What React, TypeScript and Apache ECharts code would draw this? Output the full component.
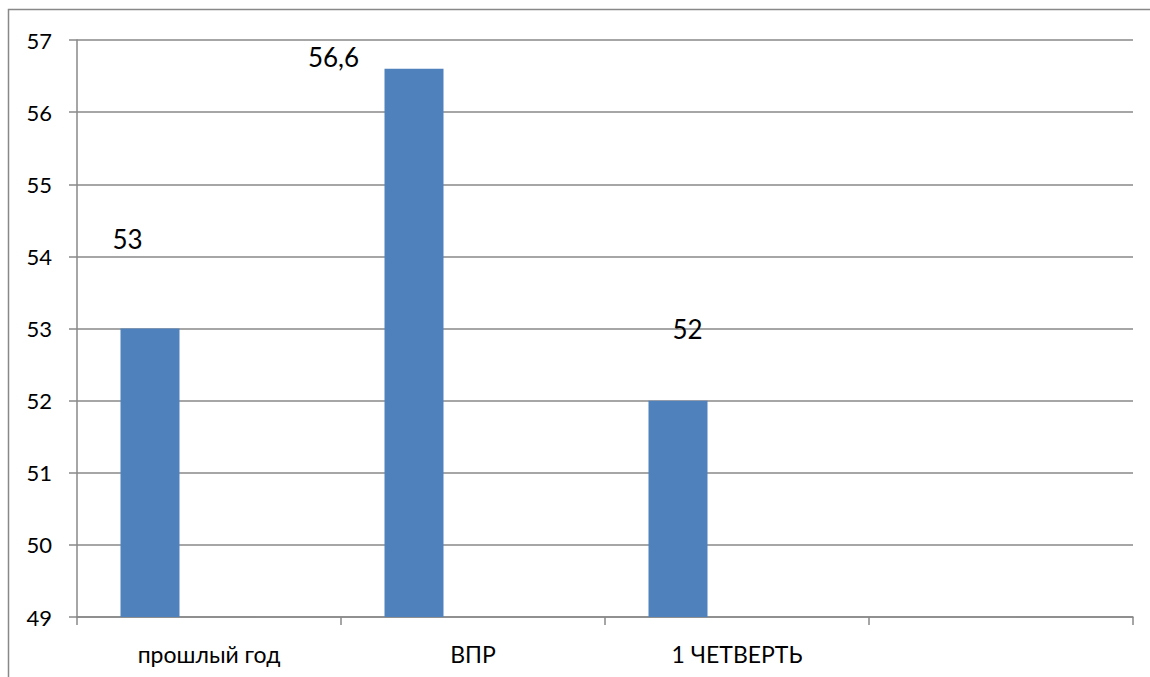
import React, { useEffect, useRef } from "react";
import * as echarts from "echarts";

const categories = ["прошлый год", "ВПР", "1 ЧЕТВЕРТЬ", ""];
const values = [53, 56.6, 52, null];
const labelTexts = ["53", "56,6", "52"];
const yTicks = { min: 49, max: 57, interval: 1 };

const labelPositions: [number, number][] = [
  [7, -90],
  [-51, -12],
  [39, -72],
];

export default function App() {
  const ref = useRef<HTMLDivElement>(null);
  useEffect(() => {
    document.body.style.margin = "0";
    const chart = echarts.init(ref.current!, undefined, { renderer: "svg" });
    const font = "Lato, 'Noto Sans', sans-serif";
    const grey = "#888888";
    chart.setOption({
      animation: false,
      textStyle: { fontFamily: font },
      graphic: [
        {
          type: "rect",
          shape: { x: 8.5, y: 9.5, width: 1300, height: 800 },
          style: { fill: "none", stroke: grey, lineWidth: 1.5 },
          silent: true,
          z: -1,
        },
      ],
      grid: { left: 77, right: 17, top: 40, bottom: 60, containLabel: false },
      xAxis: {
        type: "category",
        data: categories,
        boundaryGap: true,
        axisLine: { show: true, lineStyle: { color: grey, width: 1.5 } },
        axisTick: { show: true, length: 8, lineStyle: { color: grey, width: 1.5 } },
        axisLabel: { color: "#000", fontSize: 23, margin: 25, fontFamily: font, interval: 0 },
        splitLine: { show: false },
      },
      yAxis: {
        type: "value",
        min: yTicks.min,
        max: yTicks.max,
        interval: yTicks.interval,
        axisLine: { show: true, lineStyle: { color: grey, width: 1.5 } },
        axisTick: { show: true, length: 8, lineStyle: { color: grey, width: 1.5 } },
        axisLabel: { color: "#000", fontSize: 22, margin: 25, fontFamily: font },
        splitLine: { show: true, lineStyle: { color: grey, width: 1.5 } },
      },
      series: [
        {
          type: "bar",
          barWidth: 59,
          barGap: "0%",
          itemStyle: { color: "#4f81bd" },
          data: values.map((v, i) =>
            v === null
              ? null
              : {
                  value: v,
                  label: {
                    show: true,
                    position: labelPositions[i],
                    align: "center",
                    verticalAlign: "middle",
                    formatter: labelTexts[i],
                    fontSize: 26,
                    color: "#000",
                    fontFamily: font,
                  },
                }
          ),
        },
        { type: "bar", barWidth: 59, barGap: "0%", data: [null, null, null, null] },
        { type: "bar", barWidth: 59, barGap: "0%", data: [null, null, null, null] },
      ],
    });
    return () => chart.dispose();
  }, []);
  return <div ref={ref} style={{ width: 1150, height: 677, background: "#fff" }} />;
}
